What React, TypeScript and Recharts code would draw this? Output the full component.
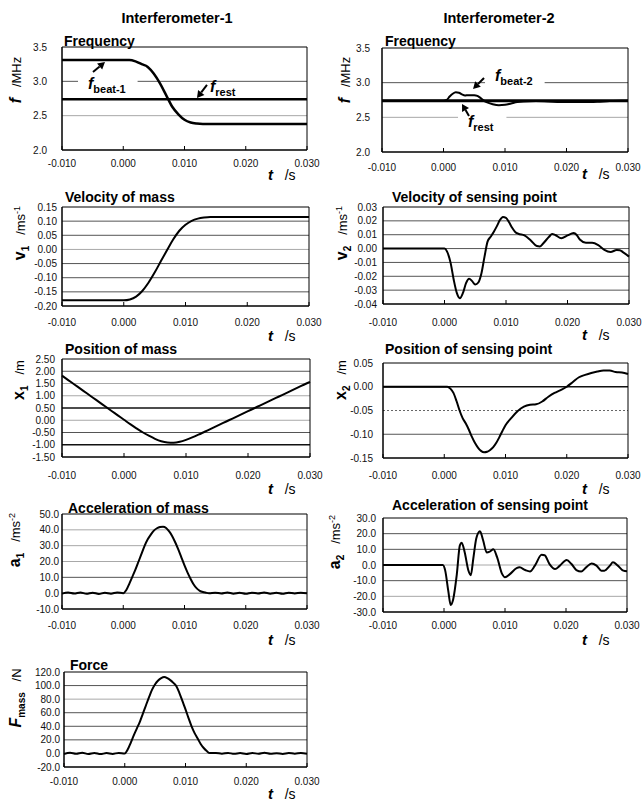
import React from 'react';
import { LineChart, Line, XAxis, YAxis, CartesianGrid, ReferenceArea, ReferenceLine } from 'recharts';

const FONT = '"Liberation Sans", Arial, Helvetica, sans-serif';

// time axis (s)
const tTicks = [-0.01, 0, 0.01, 0.02, 0.03];
const tEnds = [-0.01, 0.03];
const tSteps = [
  -0.010, -0.009, -0.008, -0.007, -0.006, -0.005, -0.004, -0.003, -0.002, -0.001, 0.000,
  0.001, 0.002, 0.003, 0.004, 0.005, 0.006, 0.007, 0.008, 0.009, 0.010,
  0.011, 0.012, 0.013, 0.014, 0.015, 0.016, 0.017, 0.018, 0.019, 0.020,
  0.021, 0.022, 0.023, 0.024, 0.025, 0.026, 0.027, 0.028, 0.029, 0.030,
];
// finer sampling during the pulse
const tPulse = [
  -0.010, -0.009, -0.008, -0.007, -0.006, -0.005, -0.004, -0.003, -0.002, -0.001, 0.000,
  0.0005, 0.001, 0.0015, 0.002, 0.0025, 0.003, 0.0035, 0.004, 0.0045, 0.005, 0.0055, 0.006, 0.0065, 0.007,
  0.0075, 0.008, 0.0085, 0.009, 0.0095, 0.010, 0.0105, 0.011, 0.0115, 0.012, 0.0125, 0.013, 0.0135, 0.014,
  0.015, 0.016, 0.017, 0.018, 0.019, 0.020, 0.021, 0.022, 0.023, 0.024, 0.025, 0.026, 0.027, 0.028, 0.029, 0.030,
];

// Interferometer-1
const fBeat1 = [
  3.31, 3.31, 3.31, 3.31, 3.31, 3.31, 3.31, 3.31, 3.31, 3.31, 3.31,
  3.31, 3.29, 3.25, 3.21, 3.11, 2.97, 2.80, 2.63, 2.52, 2.44,
  2.40, 2.385, 2.38, 2.38, 2.38, 2.38, 2.38, 2.38, 2.38, 2.38,
  2.38, 2.38, 2.38, 2.38, 2.38, 2.38, 2.38, 2.38, 2.38, 2.38,
];
const fRest1 = [2.74, 2.74];
const v1 = [
  -0.18, -0.18, -0.18, -0.18, -0.18, -0.18, -0.18, -0.18, -0.18, -0.18, -0.18,
  -0.177, -0.167, -0.147, -0.118, -0.082, -0.042, -0.003, 0.035, 0.066, 0.087,
  0.101, 0.109, 0.113, 0.115, 0.115, 0.115, 0.115, 0.115, 0.115, 0.115,
  0.115, 0.115, 0.115, 0.115, 0.115, 0.115, 0.115, 0.115, 0.115, 0.115,
];
const x1 = [
  1.82, 1.64, 1.46, 1.28, 1.10, 0.92, 0.74, 0.56, 0.38, 0.20, 0.02,
  -0.16, -0.33, -0.49, -0.63, -0.76, -0.86, -0.91, -0.92, -0.88, -0.80,
  -0.70, -0.59, -0.47, -0.35, -0.23, -0.11, 0.01, 0.13, 0.25, 0.37,
  0.49, 0.61, 0.73, 0.85, 0.97, 1.09, 1.21, 1.33, 1.45, 1.57,
];
const a1 = [
  -0.3, 0.4, -0.2, 0.5, -0.4, 0.3, -0.5, 0.2, -0.3, 0.4, 0.0,
  2, 6, 10.5, 15, 20, 25, 30, 34, 37, 39.5, 41, 41.8, 42, 41.2,
  39, 36, 32, 27.5, 22.5, 17.5, 13, 9, 5.5, 3, 1.5, 0.7, 0.3, 0,
  0.3, -0.2, 0.4, -0.3, 0.2, -0.4, 0.3, -0.2, 0.4, -0.3, 0.2, -0.4, 0.3, -0.2, 0.3, -0.1,
];
const fMass = [
  -0.8, 0.9, -0.5, 1.0, -0.9, 0.6, -1.0, 0.5, -0.7, 0.8, 0.0,
  6, 16, 27, 37, 47, 59, 71, 83, 94, 102, 107.5, 111, 112.5, 111,
  108, 104, 99, 89, 77, 65, 52, 40, 30, 22, 14, 8, 3.5, 0.5,
  0.6, -0.4, 0.8, -0.6, 0.5, -0.8, 0.7, -0.5, 0.9, -0.6, 0.4, -0.7, 0.6, -0.3, 0.5, -0.4,
];

// Interferometer-2
const tFb2 = [
  -0.010, 0.000, 0.0005, 0.001, 0.0015, 0.002, 0.0025, 0.003, 0.0035, 0.004, 0.0045, 0.005, 0.0055,
  0.006, 0.0065, 0.007, 0.008, 0.009, 0.010, 0.011, 0.012, 0.013, 0.015, 0.017, 0.019, 0.021,
  0.023, 0.025, 0.027, 0.029, 0.030,
];
const fBeat2 = [
  2.74, 2.74, 2.75, 2.80, 2.84, 2.86, 2.855, 2.83, 2.815, 2.82, 2.82, 2.82, 2.81,
  2.78, 2.745, 2.72, 2.69, 2.675, 2.68, 2.70, 2.72, 2.73, 2.735, 2.73, 2.72, 2.72,
  2.72, 2.725, 2.735, 2.74, 2.74,
];
const fRest2 = [2.74, 2.74];

const tV2 = [
  -0.010, 0.000, 0.0004, 0.001, 0.0015, 0.002, 0.0025, 0.003, 0.0035, 0.004, 0.0045, 0.005, 0.0055,
  0.006, 0.0065, 0.007, 0.0075, 0.008, 0.0085, 0.009, 0.0095, 0.010, 0.0105, 0.011, 0.0115, 0.012,
  0.013, 0.014, 0.015, 0.0155, 0.016, 0.017, 0.0175, 0.018, 0.019, 0.020, 0.021, 0.0215, 0.022,
  0.023, 0.024, 0.025, 0.026, 0.027, 0.028, 0.0285, 0.029, 0.030,
];
const v2 = [
  0, 0, -0.002, -0.0105, -0.0225, -0.032, -0.0358, -0.032, -0.025, -0.0218, -0.0235, -0.026, -0.0245,
  -0.018, -0.006, 0.005, 0.0085, 0.012, 0.016, 0.0205, 0.0228, 0.0222, 0.019, 0.015, 0.012, 0.0107,
  0.0095, 0.006, 0.0018, 0.0015, 0.0035, 0.0085, 0.0105, 0.0098, 0.0075, 0.0095, 0.0112, 0.0098, 0.0065,
  0.0042, 0.0042, 0.0025, -0.001, -0.0025, -0.001, -0.0012, -0.0025, -0.0058,
];

const tX2 = [
  -0.010, 0.000, 0.0005, 0.001, 0.0015, 0.002, 0.0025, 0.003, 0.0035, 0.004, 0.0045, 0.005, 0.0055,
  0.006, 0.0065, 0.007, 0.0075, 0.008, 0.0085, 0.009, 0.0095, 0.010, 0.011, 0.012, 0.013, 0.014,
  0.015, 0.016, 0.017, 0.018, 0.019, 0.020, 0.021, 0.022, 0.023, 0.024, 0.025, 0.026, 0.027,
  0.028, 0.029, 0.030,
];
const x2 = [
  0, 0, 0, -0.004, -0.013, -0.03, -0.05, -0.066, -0.077, -0.09, -0.105, -0.118, -0.128,
  -0.135, -0.138, -0.137, -0.133, -0.127, -0.118, -0.106, -0.093, -0.081, -0.065, -0.051, -0.042, -0.038,
  -0.037, -0.031, -0.021, -0.013, -0.007, 0.0, 0.01, 0.02, 0.025, 0.029, 0.032, 0.034, 0.034,
  0.031, 0.030, 0.027,
];

const tA2 = [
  -0.010, -0.0002, 0.0002, 0.0007, 0.0011, 0.0015, 0.0021, 0.0026, 0.0029, 0.0034, 0.004, 0.0044,
  0.0048, 0.0053, 0.0059, 0.0064, 0.007, 0.0075, 0.0081, 0.0087, 0.0095, 0.010, 0.0108, 0.0119,
  0.0124, 0.0133, 0.0141, 0.0149, 0.016, 0.0165, 0.0173, 0.0182, 0.019, 0.0201, 0.0209, 0.0217,
  0.0225, 0.0233, 0.0242, 0.025, 0.0258, 0.0263, 0.0272, 0.0277, 0.0285, 0.0294, 0.030,
];
const a2 = [
  0, 0, -3.6, -16.5, -25.5, -22, -6, 12.5, 14.2, 8, -3.5, -6.5,
  4, 17, 21.5, 16, 8, 8.5, 10, 5, -5.5, -7.8, -5.8, -2,
  -1.5, -3.2, -4.1, -0.4, 6.5, 6.2, 0.6, -2.6, -0.4, 3.2, 0.6, -3.2,
  -4.1, -1.5, 1, -0.4, -3.6, -3.6, -0.4, 1.7, -0.4, -3.6, -4,
];

const rows = (t: number[], v: number[]) => t.map((x, i) => ({ t: x, v: v[i] }));

type Level = 'k' | 'd' | 'g' | 'dot';
const GRID_STYLE: Record<Level, { stroke: string; width: number; dash?: string }> = {
  k: { stroke: '#111', width: 1.4 },
  d: { stroke: '#555', width: 1 },
  g: { stroke: '#a8a8a8', width: 1 },
  dot: { stroke: '#666', width: 1, dash: '2 2' },
};

interface Series { t: number[]; v: number[]; width: number }
interface Note { from: [number, number]; to: [number, number]; sub: string; dx: number; dy: number; bg: boolean }
interface PanelProps {
  x: number; y: number; w: number; h: number;
  yDomain: [number, number]; yTicks: number[]; digits: number; yTickGap: number; xTickGap: number;
  grid: Level[];
  series: Series[];
  yLabel: React.ReactNode; yLabelX: number; yLabelY: number;
  tX: number; tY: number;
  title: string; titleX: number; titleY: number;
  notes?: Note[];
}

const YW = 66;
const MT = 6;
const XH = 46;

const NB = '\u00a0\u00a0\u00a0';
const fLabel = (
  <>
    <tspan fontWeight="bold" fontStyle="italic" fontSize={16}>f</tspan>
    <tspan fontSize={13}>{NB + '/MHz'}</tspan>
  </>
);
const subLabel = (main: string, sub: string, unit: string, sup: string, italic = false) => (
  <>
    <tspan fontWeight="bold" fontStyle={italic ? 'italic' : 'normal'} fontSize={16}>{main}</tspan>
    <tspan fontWeight="bold" fontSize={10} dy={4}>{sub}</tspan>
    <tspan fontSize={13} dy={-4}>{NB + unit}</tspan>
    {sup ? <tspan fontSize={9} dy={-5}>{sup}</tspan> : null}
  </>
);

const arrowShape = (n: Note) => (p: any) => {
  const { x1, y1, x2, y2 } = p;
  const ang = Math.atan2(y2 - y1, x2 - x1);
  const L = 7;
  const W = 4;
  const bx = x2 - L * Math.cos(ang);
  const by = y2 - L * Math.sin(ang);
  const pts = `${x2},${y2} ${bx + W * Math.sin(ang)},${by - W * Math.cos(ang)} ${bx - W * Math.sin(ang)},${by + W * Math.cos(ang)}`;
  const tx = x1 + n.dx;
  const ty = y1 + n.dy;
  const tw = 6 + n.sub.length * 5.6;
  return (
    <g>
      {n.bg ? <rect x={tx - 10} y={ty - 11} width={tw + 20} height={17} fill="#fff" /> : null}
      <line x1={x1} y1={y1} x2={bx} y2={by} stroke="#000" strokeWidth={2} />
      <polygon points={pts} fill="#000" />
      <text x={tx} y={ty} fontFamily={FONT} fill="#000">
        <tspan fontWeight="bold" fontStyle="italic" fontSize={16}>f</tspan>
        <tspan fontWeight="bold" fontSize={11} dy={4}>{n.sub}</tspan>
      </text>
    </g>
  );
};

function Panel(p: PanelProps) {
  const left = p.x - YW;
  const top = p.y - MT;
  const [lo, hi] = p.yDomain;

  const gridLine = (g: any) => {
    const val = hi - ((g.y1 - MT) / p.h) * (hi - lo);
    let idx = 0;
    p.yTicks.forEach((tk, i) => {
      if (Math.abs(tk - val) < Math.abs(p.yTicks[idx] - val)) idx = i;
    });
    const k = g.key ?? `gl-${g.y1}`;
    if (idx === 0 || idx === p.yTicks.length - 1) return <g key={k} />;
    const s = GRID_STYLE[p.grid[idx]];
    return <line key={k} x1={g.x1} x2={g.x2} y1={g.y1} y2={g.y2} stroke={s.stroke} strokeWidth={s.width} strokeDasharray={s.dash} />;
  };

  return (
    <>
      <div style={{ position: 'absolute', left, top }}>
        <LineChart width={YW + p.w + 14} height={MT + p.h + XH} margin={{ top: MT, right: 14, bottom: 0, left: 0 }}>
          <CartesianGrid vertical={false} horizontal={gridLine} />
          <XAxis
            dataKey="t"
            type="number"
            domain={[-0.01, 0.03]}
            ticks={tTicks}
            interval={0}
            height={XH}
            tickFormatter={(v: number) => v.toFixed(3)}
            tick={{ fontSize: 10, fill: '#111', fontFamily: FONT }}
            tickSize={-4}
            tickMargin={p.xTickGap}
            tickLine={{ stroke: '#000' }}
            axisLine={{ stroke: '#000' }}
            label={{
              content: () => (
                <text x={p.tX - left} y={p.tY - top} fontFamily={FONT} fill="#000">
                  <tspan fontWeight="bold" fontStyle="italic" fontSize={15}>t</tspan>
                  <tspan fontSize={14}>{NB + '/s'}</tspan>
                </text>
              ),
            }}
          />
          <YAxis
            type="number"
            domain={p.yDomain}
            ticks={p.yTicks}
            interval={0}
            width={YW}
            tickFormatter={(v: number) => v.toFixed(p.digits)}
            tick={{ fontSize: 10, fill: '#111', fontFamily: FONT }}
            tickLine={false}
            tickSize={0}
            tickMargin={p.yTickGap}
            axisLine={{ stroke: '#000' }}
            label={{
              content: () => (
                <text
                  transform={`translate(${p.yLabelX - left},${p.yLabelY - top}) rotate(-90)`}
                  textAnchor="middle"
                  fontFamily={FONT}
                  fill="#000"
                >
                  {p.yLabel}
                </text>
              ),
            }}
          />
          <ReferenceArea x1={-0.01} x2={0.03} y1={lo} y2={hi} fill="none" stroke="#000" strokeWidth={1} />
          {p.series.map((s, i) => (
            <Line
              key={i}
              data={rows(s.t, s.v)}
              dataKey="v"
              type="monotone"
              stroke="#000"
              strokeWidth={s.width}
              dot={false}
              activeDot={false}
              isAnimationActive={false}
            />
          ))}
          {(p.notes || []).map((n, i) => (
            <ReferenceLine
              key={`n${i}`}
              segment={[{ x: n.from[0], y: n.from[1] }, { x: n.to[0], y: n.to[1] }]}
              shape={arrowShape(n)}
            />
          ))}
        </LineChart>
      </div>
      <div
        style={{
          position: 'absolute',
          left: p.titleX,
          top: p.titleY - 9,
          fontSize: 14,
          lineHeight: '18px',
          fontWeight: 'bold',
          whiteSpace: 'nowrap',
        }}
      >
        {p.title}
      </div>
    </>
  );
}

const panels: PanelProps[] = [
  {
    x: 62, y: 47, w: 245, h: 103, yDomain: [2, 3.5], yTicks: [2, 2.5, 3, 3.5], digits: 1, yTickGap: 15, xTickGap: 14,
    grid: ['k', 'g', 'd', 'k'],
    series: [{ t: tSteps, v: fBeat1, width: 2.5 }, { t: tEnds, v: fRest1, width: 2.5 }],
    yLabel: fLabel, yLabelX: 21, yLabelY: 80, tX: 268, tY: 180,
    title: 'Frequency', titleX: 64, titleY: 41,
    notes: [
      { from: [-0.00494, 3.136], to: [-0.00298, 3.282], sub: 'beat-1', dx: -5, dy: 17, bg: true },
      { from: [0.01367, 2.947], to: [0.01204, 2.757], sub: 'rest', dx: 3, dy: 7, bg: false },
    ],
  },
  {
    x: 382, y: 48, w: 246, h: 104, yDomain: [2, 3.5], yTicks: [2, 2.5, 3, 3.5], digits: 1, yTickGap: 12, xTickGap: 16,
    grid: ['k', 'g', 'd', 'k'],
    series: [{ t: tEnds, v: fRest2, width: 3 }, { t: tFb2, v: fBeat2, width: 2 }],
    yLabel: fLabel, yLabelX: 350, yLabelY: 80, tX: 582, tY: 179,
    title: 'Frequency', titleX: 385, titleY: 41,
    notes: [
      { from: [0.00659, 3.067], to: [0.0048, 2.909], sub: 'beat-2', dx: 11, dy: 3, bg: true },
      { from: [0.00415, 2.519], to: [0.00301, 2.692], sub: 'rest', dx: -1, dy: 11, bg: true },
    ],
  },
  {
    x: 62, y: 207, w: 247, h: 99, yDomain: [-0.2, 0.15],
    yTicks: [-0.2, -0.15, -0.1, -0.05, 0, 0.05, 0.1, 0.15], digits: 2, yTickGap: 5, xTickGap: 17,
    grid: ['k', 'd', 'd', 'd', 'g', 'd', 'd', 'k'],
    series: [{ t: tSteps, v: v1, width: 2 }],
    yLabel: subLabel('v', '1', '/ms', '-1'), yLabelX: 25, yLabelY: 233, tX: 268, tY: 341,
    title: 'Velocity of mass', titleX: 65, titleY: 197,
  },
  {
    x: 383, y: 207, w: 246, h: 97, yDomain: [-0.04, 0.03],
    yTicks: [-0.04, -0.03, -0.02, -0.01, 0, 0.01, 0.02, 0.03], digits: 2, yTickGap: 6, xTickGap: 19,
    grid: ['k', 'd', 'd', 'd', 'd', 'd', 'd', 'k'],
    series: [{ t: tV2, v: v2, width: 2 }],
    yLabel: subLabel('v', '2', '/ms', '-1'), yLabelX: 347, yLabelY: 233, tX: 582, tY: 340,
    title: 'Velocity of sensing point', titleX: 392, titleY: 197,
  },
  {
    x: 62, y: 359, w: 248, h: 98, yDomain: [-1.5, 2.5],
    yTicks: [-1.5, -1, -0.5, 0, 0.5, 1, 1.5, 2, 2.5], digits: 2, yTickGap: 7, xTickGap: 19,
    grid: ['k', 'k', 'd', 'g', 'k', 'g', 'g', 'd', 'k'],
    series: [{ t: tSteps, v: x1, width: 2 }],
    yLabel: subLabel('x', '1', '/m', ''), yLabelX: 24, yLabelY: 380, tX: 268, tY: 494,
    title: 'Position of mass', titleX: 65, titleY: 349,
  },
  {
    x: 383, y: 363, w: 245, h: 95, yDomain: [-0.15, 0.05],
    yTicks: [-0.15, -0.1, -0.05, 0, 0.05], digits: 2, yTickGap: 10, xTickGap: 18,
    grid: ['k', 'd', 'dot', 'k', 'k'],
    series: [{ t: tX2, v: x2, width: 2 }],
    yLabel: subLabel('x', '2', '/m', ''), yLabelX: 346, yLabelY: 380, tX: 582, tY: 494,
    title: 'Position of sensing point', titleX: 385, titleY: 349,
  },
  {
    x: 62, y: 514, w: 245, h: 95, yDomain: [-10, 50],
    yTicks: [-10, 0, 10, 20, 30, 40, 50], digits: 1, yTickGap: 3, xTickGap: 17,
    grid: ['k', 'd', 'd', 'g', 'g', 'g', 'k'],
    series: [{ t: tPulse, v: a1, width: 2 }],
    yLabel: subLabel('a', '1', '/ms', '-2'), yLabelX: 20, yLabelY: 540, tX: 268, tY: 645,
    title: 'Acceleration of mass', titleX: 68, titleY: 508,
  },
  {
    x: 383, y: 518, w: 244, h: 94, yDomain: [-30, 30],
    yTicks: [-30, -20, -10, 0, 10, 20, 30], digits: 1, yTickGap: 7, xTickGap: 14,
    grid: ['k', 'g', 'd', 'g', 'd', 'd', 'k'],
    series: [{ t: tA2, v: a2, width: 2 }],
    yLabel: subLabel('a', '2', '/ms', '-2'), yLabelX: 340, yLabelY: 542, tX: 582, tY: 645,
    title: 'Acceleration of sensing point', titleX: 392, titleY: 505,
  },
  {
    x: 64, y: 672, w: 243, h: 95, yDomain: [-20, 120],
    yTicks: [-20, 0, 20, 40, 60, 80, 100, 120], digits: 1, yTickGap: 4, xTickGap: 15,
    grid: ['k', 'g', 'd', 'd', 'd', 'g', 'd', 'k'],
    series: [{ t: tPulse, v: fMass, width: 2 }],
    yLabel: subLabel('F', 'mass', '/N', '', true), yLabelX: 21, yLabelY: 698, tX: 268, tY: 799,
    title: 'Force', titleX: 70, titleY: 665,
  },
];

export default function App() {
  return (
    <div
      style={{
        position: 'absolute',
        left: 0,
        top: 0,
        width: 642,
        height: 802,
        overflow: 'hidden',
        background: '#fff',
        fontFamily: FONT,
        color: '#000',
      }}
    >
      {panels.map((p, i) => (
        <Panel key={i} {...p} />
      ))}
      <div style={{ position: 'absolute', left: 77, top: 9, width: 200, textAlign: 'center', fontSize: 14.5, lineHeight: '18px', fontWeight: 'bold' }}>
        Interferometer-1
      </div>
      <div style={{ position: 'absolute', left: 399, top: 9, width: 200, textAlign: 'center', fontSize: 14.5, lineHeight: '18px', fontWeight: 'bold' }}>
        Interferometer-2
      </div>
    </div>
  );
}
